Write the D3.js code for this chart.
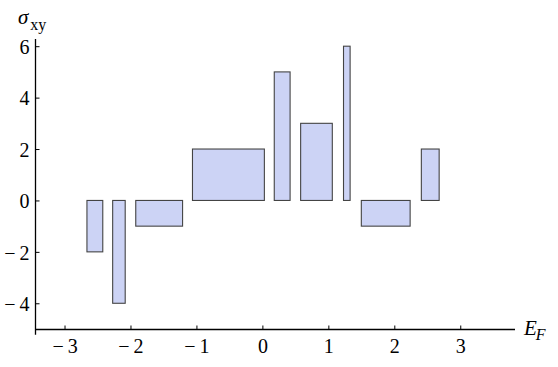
<!DOCTYPE html>
<html><head><meta charset="utf-8">
<script src="https://cdn.jsdelivr.net/npm/d3@7"></script>
<style>
html,body{margin:0;padding:0;background:#fff;}
svg{display:block;}
</style></head>
<body><svg id="c" width="558" height="367"></svg>
<script>
const binStart = [-2.66, -2.27, -1.92, -1.12, -1.06, 0.18, 0.58, 1.23, 1.50, 2.41];
const binEnd   = [-2.42, -2.08, -1.21, -1.115, 0.03, 0.42, 1.06, 1.33, 2.24, 2.68];
const values   = [-2, -4, -1, 0, 2, 5, 3, 6, -1, 2];
const xTicks = [-3, -2, -1, 0, 1, 2, 3];
const yTicks = [-4, -2, 0, 2, 4, 6];

const FONT = "'Liberation Serif','Times New Roman',serif";
const svg = d3.select("#c");
const x = d3.scaleLinear().domain([-3.44, 3.83]).range([35.5, 515]);
const y = d3.scaleLinear().domain([-5.02, 6.28]).range([329.5, 39]);
const minus = d => d < 0 ? "\u2212\u2009" + Math.abs(d) : String(d);

const bars = binStart.map((s, i) => ({s, e: binEnd[i], v: values[i]}));
svg.append("g").selectAll("rect").data(bars).join("rect")
  .attr("x", d => x(d.s))
  .attr("width", d => Math.max(0.5, x(d.e) - x(d.s)))
  .attr("y", d => Math.min(y(d.v), y(0)))
  .attr("height", d => Math.abs(y(d.v) - y(0)))
  .attr("fill", d => d.v === 0 ? "#3b3bb0" : "#ccd3f5")
  .attr("stroke", d => d.v === 0 ? "none" : "#444")
  .attr("stroke-width", 1.1);

// x axis
const gx = svg.append("g").attr("transform", `translate(0,${y(-5.02)})`)
  .call(d3.axisBottom(x).tickValues(xTicks).tickSizeInner(-4).tickSizeOuter(0).tickPadding(9).tickFormat(minus));
gx.attr("font-family", FONT);
gx.select(".domain").remove();
gx.selectAll("line").attr("stroke", "#000").attr("stroke-width", 1);
gx.selectAll("text").attr("font-family", FONT).attr("font-size", 20).attr("dy", "0.7em").attr("fill","#000");
svg.append("line").attr("x1", x(-3.44)).attr("x2", x(3.83))
  .attr("y1", y(-5.02)).attr("y2", y(-5.02)).attr("stroke", "#000").attr("stroke-width", 1.3);

// y axis
const gy = svg.append("g").attr("transform", `translate(${x(-3.44)},0)`)
  .call(d3.axisLeft(y).tickValues(yTicks).tickSizeInner(-4).tickSizeOuter(0).tickPadding(6).tickFormat(minus));
gy.attr("font-family", FONT);
gy.select(".domain").remove();
gy.selectAll("line").attr("stroke", "#000").attr("stroke-width", 1);
gy.selectAll("text").attr("font-family", FONT).attr("font-size", 20).attr("dy", "0.36em").attr("fill","#000");
svg.append("line").attr("x1", x(-3.44)).attr("x2", x(-3.44))
  .attr("y1", y(6.28)).attr("y2", y(-5.22)).attr("stroke", "#000").attr("stroke-width", 1.3);

// axis labels
const yl = svg.append("text").attr("x", 18).attr("y", 24).attr("font-size", 21).attr("font-family", FONT);
yl.append("tspan").attr("font-style", "italic").text("\u03C3");
yl.append("tspan").attr("font-size", 16).attr("dx", 2).attr("dy", 6).text("xy");

const xl = svg.append("text").attr("x", 524).attr("y", 335).attr("font-size", 21).attr("font-family", FONT);
xl.append("tspan").attr("font-style", "italic").text("E");
xl.append("tspan").attr("font-style", "italic").attr("font-size", 16).attr("dx", -1).attr("dy", 5).text("F");
</script></body></html>
